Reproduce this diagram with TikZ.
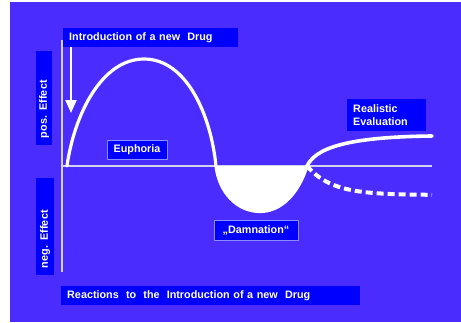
\documentclass[tikz,border=0pt]{standalone}
\usepackage{fontspec}
\setmainfont{Liberation Sans}
\usetikzlibrary{arrows.meta}
\definecolor{bgblue}{RGB}{74,44,255}
\definecolor{boxblue}{RGB}{0,0,255}
\definecolor{axisgrey}{RGB}{210,210,240}
\definecolor{boxedge}{RGB}{140,140,255}
\begin{document}
\begin{tikzpicture}[x=1pt,y=-1pt,
  lbl/.style={fill=boxblue, text=white, font=\bfseries\fontsize{10.8}{13}\selectfont, inner sep=0pt},
  framed/.style={lbl, draw=boxedge, line width=0.9pt},
  axisline/.style={draw=axisgrey, line width=2pt},
  curveline/.style={draw=white, line width=3.2pt, line cap=round},
  dashline/.style={draw=white, line width=4pt, dash pattern=on 7pt off 4pt}]
\useasboundingbox (0,0) rectangle (461,322);
\fill[white] (0,0) rectangle (461,322);
\fill[bgblue] (10,2) rectangle (461,322);
% axes
\coordinate (ytop) at (61.5,40);
\coordinate (ybot) at (61.5,272);
\coordinate (xl) at (61.5,166);
\coordinate (xr) at (432,166);
\draw[axisline] (ytop) -- (ybot);
\draw[axisline] (xl) -- (xr);
% key points of the curve
\coordinate (c0) at (67,166);
\coordinate (peak) at (144,59);
\coordinate (c1) at (216,166);
\coordinate (low) at (260,211.5);
\coordinate (c2) at (307,166);
\coordinate (hiend) at (432,136);
% dip fill
\fill[white] (c1) .. controls (219,192) and (237,211.5) .. (low)
  .. controls (282,211.5) and (299,192) .. (c2) -- cycle;
% curves
\draw[curveline] (c0) .. controls (74,116) and (101,59) .. (peak)
  .. controls (187,59) and (211,116) .. (c1)
  .. controls (219,192) and (237,211.5) .. (low)
  .. controls (282,211.5) and (299,192) .. (c2);
\draw[curveline, line width=3.6pt] (c2) .. controls (315,150) and (340,137) .. (hiend);
\draw[dashline] plot[domain=307:432, samples=60] (\x,{166+29*(1-exp(-(\x-307)/25))});
% labels
\node[lbl, minimum width=175pt, minimum height=19pt, text width=163pt, align=left, anchor=north west] (title) at (63,28) {Introduction of a new\ \ Drug};
\node[lbl, minimum width=299pt, minimum height=19pt, text width=287pt, align=left, anchor=north west] (caption) at (61,286) {Reactions\ \ to\ \ the\ \ Introduction of a new\ \ Drug};
\node[lbl, minimum width=79pt, minimum height=32pt, text width=67pt, align=left, anchor=north west] (real) at (347,99) {Realistic\\Evaluation};
\node[framed, minimum width=60pt, minimum height=19pt] (euph) at (137,149.5) {Euphoria};
\node[framed, minimum width=84pt, minimum height=20pt] (damn) at (256,230) {„Damnation“};
\node[lbl, rotate=90, minimum width=94pt, minimum height=16pt, text width=80pt, align=left] (pos) at (44,98) {pos. Effect};
\node[lbl, rotate=90, minimum width=97pt, minimum height=18pt, text width=83pt, align=left] (neg) at (45,226.5) {neg. Effect};
% arrow
\coordinate (arrtip) at (71,113);
\draw[white, line width=2pt, -{Triangle[length=13pt,width=11pt]}] (title.south west -| arrtip) -- (arrtip);
\end{tikzpicture}
\end{document}
